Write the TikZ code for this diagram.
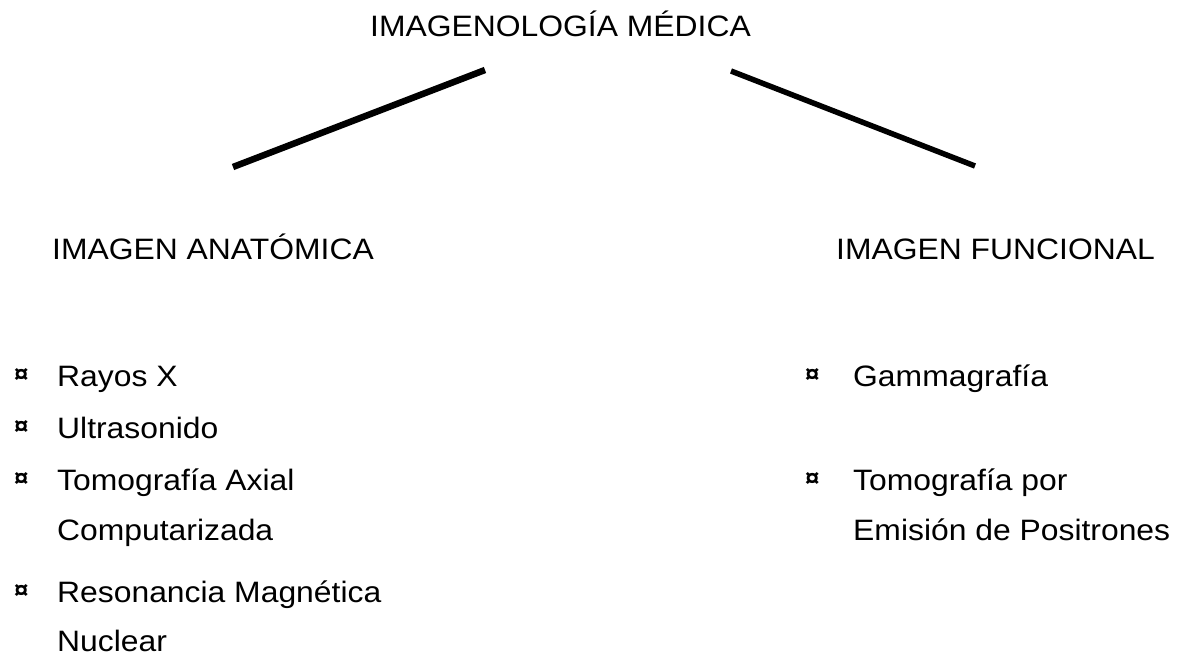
\documentclass[tikz,border=0pt]{standalone}
\usepackage{fontspec}
\setmainfont{Liberation Sans}[FakeStretch=1.08]
\begin{document}
\begin{tikzpicture}[x=1pt,y=-1pt,
  lbl/.style={anchor=base west, inner sep=0pt, font=\fontsize{29.5}{36}\selectfont},
  item/.style={anchor=base west, inner sep=0pt, font=\fontsize{29.5}{36}\selectfont},
  bul/.style={anchor=base west, inner sep=0pt, font=\fontsize{24}{26}\selectfont\bfseries},
  branch/.style={line width=6.5pt}]
\useasboundingbox (0,0) rectangle (1183,660);
\node[lbl] (title) at (370,37) {IMAGENOLOGÍA MÉDICA};
\node[lbl] (anat) at (52,260) {IMAGEN ANATÓMICA};
\node[lbl] (func) at (836,260) {IMAGEN FUNCIONAL};
\coordinate (la) at (485,70);
\coordinate (lb) at (233,167);
\coordinate (ra) at (731,71);
\coordinate (rb) at (975,166);
\draw[branch] (la) -- (lb);
\draw[branch, line width=5.5pt] (ra) -- (rb);
% left list
\node[bul] (b1) at (14,382) {¤};
\node[item] (i1) at (57,386) {Rayos X};
\node[bul] (b2) at (14,434) {¤};
\node[item] (i2) at (57,438) {Ultrasonido};
\node[bul] (b3) at (14,486) {¤};
\node[item] (i3) at (57,490) {Tomografía Axial};
\node[item] (i3b) at (57,540) {Computarizada};
\node[bul] (b4) at (14,598) {¤};
\node[item] (i4) at (57,602) {Resonancia Magnética};
\node[item] (i4b) at (57,651) {Nuclear};
% right list
\node[bul] (r1) at (805,382) {¤};
\node[item] (j1) at (853,386) {Gammagrafía};
\node[bul] (r2) at (805,486) {¤};
\node[item] (j2) at (853,490) {Tomografía por};
\node[item] (j2b) at (853,540) {Emisión de Positrones};
\end{tikzpicture}
\end{document}
